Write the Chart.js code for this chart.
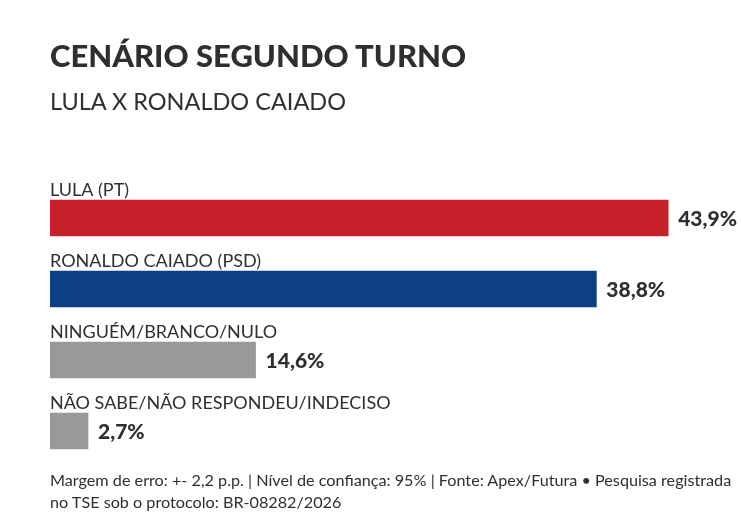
<!DOCTYPE html>
<html>
<head>
<meta charset="utf-8">
<script src="https://cdn.jsdelivr.net/npm/chart.js@4"></script>
<style>
  html, body { margin: 0; padding: 0; background: #fff; }
  body { width: 741px; height: 526px; position: relative; overflow: hidden; font-family: Lato, "Noto Sans", sans-serif; color: #2f2f2f; }
  #wrap { position: absolute; left: 0; top: 0; width: 741px; height: 526px; }
  .title { position: absolute; left: 50px; top: 37px; font-size: 31px; font-weight: 900; line-height: 36px; }
  .subtitle { position: absolute; left: 50px; top: 86px; font-size: 23.5px; line-height: 30px; }
  .footer { position: absolute; left: 50px; top: 469px; font-size: 16.2px; line-height: 22px; }
</style>
</head>
<body>
<div id="wrap"><canvas id="chart" width="741" height="526"></canvas></div>
<div class="title">CENÁRIO SEGUNDO TURNO</div>
<div class="subtitle">LULA X RONALDO CAIADO</div>
<div class="footer">Margem de erro: +- 2,2 p.p. | Nível de confiança: 95% | Fonte: Apex/Futura • Pesquisa registrada<br>no TSE sob o protocolo: BR-08282/2026</div>
<script>
const categories = ["LULA (PT)", "RONALDO CAIADO (PSD)", "NINGUÉM/BRANCO/NULO", "NÃO SABE/NÃO RESPONDEU/INDECISO"];
const values = [43.9, 38.8, 14.6, 2.7];
const valueLabels = ["43,9%", "38,8%", "14,6%", "2,7%"];
const colors = ["#c8202b", "#0c3f84", "#999999", "#999999"];

// labels above bars and values at bar ends
const barText = {
  id: "barText",
  afterDatasetsDraw(chart) {
    const ctx = chart.ctx;
    const meta = chart.getDatasetMeta(0);
    ctx.save();
    meta.data.forEach((bar, i) => {
      const top = bar.y - bar.height / 2;
      ctx.fillStyle = "#2f2f2f";
      ctx.textAlign = "left";
      ctx.textBaseline = "alphabetic";
      ctx.font = "18px Lato";
      ctx.fillText(categories[i], bar.base, top - 4);
      ctx.font = "900 21px Lato";
      ctx.textBaseline = "middle";
      ctx.fillText(valueLabels[i], bar.x + 10, bar.y + 1);
    });
    ctx.restore();
  },
};

new Chart(document.getElementById("chart"), {
  type: "bar",
  data: {
    labels: categories,
    datasets: [
      {
        data: values,
        backgroundColor: colors,
        barThickness: 36,
        borderWidth: 0,
      },
    ],
  },
  options: {
    indexAxis: "y",
    responsive: false,
    animation: false,
    layout: { padding: { left: 50, right: 1, top: 182.5, bottom: 59.5 } },
    scales: {
      x: { display: false, min: 0, max: 49 },
      y: { display: false },
    },
    plugins: {
      legend: { display: false },
      tooltip: { enabled: false },
    },
  },
  plugins: [barText],
});
</script>
</body>
</html>
